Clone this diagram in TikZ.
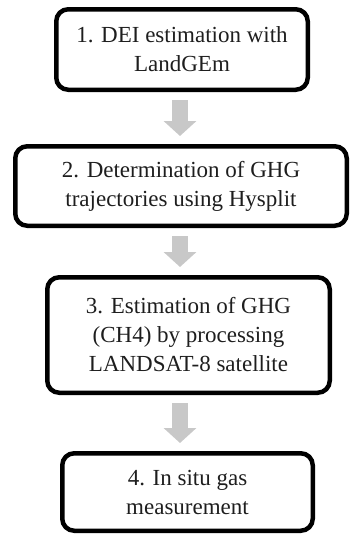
\documentclass[tikz,border=0pt]{standalone}
\usepackage{fontspec}
\setmainfont{Liberation Serif}
\usetikzlibrary{arrows.meta}
\definecolor{arrowgray}{RGB}{200,200,200}
\definecolor{txt}{RGB}{30,30,30}
\tikzset{
  stepbox/.style={draw=black, line width=4.5pt, rounded corners=12pt, align=center,
    text=txt, inner sep=0pt, font=\fontsize{23}{29}\selectfont},
  flowarrow/.style={draw=arrowgray, line width=16pt, -{Triangle[width=32pt,length=15pt]}}
}
\begin{document}
\begin{tikzpicture}[x=1pt,y=-1pt]
\useasboundingbox (0,0) rectangle (349,536);
\node[stepbox, minimum width=251.5pt, minimum height=80.5pt] (s1) at (182,49.5) {1. DEI estimation with\\LandGEm};
\node[stepbox, minimum width=331.5pt, minimum height=79.5pt] (s2) at (181,186) {2. Determination of GHG\\trajectories using Hysplit};
\node[stepbox, minimum width=282.5pt, minimum height=115.5pt] (s3) at (188.5,335) {3. Estimation of GHG\\(CH4) by processing\\LANDSAT-8 satellite};
\node[stepbox, minimum width=250.5pt, minimum height=77.5pt] (s4) at (187.5,492) {4. In situ gas\\measurement};
\coordinate (ax) at (180,0);
\draw[flowarrow] ([yshift=-8pt]ax |- s1.south) -- ([yshift=8pt]ax |- s2.north);
\draw[flowarrow] ([yshift=-8pt]ax |- s2.south) -- ([yshift=8pt]ax |- s3.north);
\draw[flowarrow] ([yshift=-8pt]ax |- s3.south) -- ([yshift=8pt]ax |- s4.north);
\end{tikzpicture}
\end{document}
